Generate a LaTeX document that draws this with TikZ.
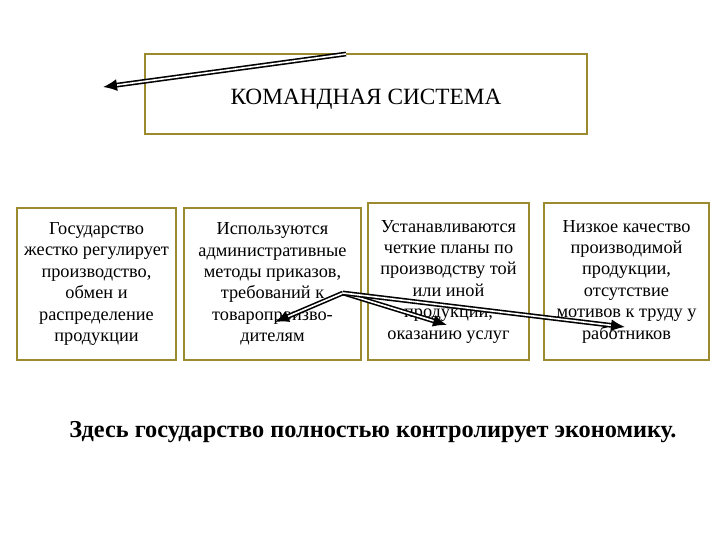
\documentclass[tikz,border=0pt]{standalone}
\usepackage{fontspec}
\setmainfont{Liberation Serif}
\usetikzlibrary{arrows.meta}
\definecolor{olive}{HTML}{9C8A2E}
\tikzstyle{head}=[draw=olive, line width=1.8pt, fill=white, minimum width=442pt, minimum height=80pt, text height=21pt, text depth=0pt, font=\fontsize{23.3}{27}\selectfont]
\tikzstyle{cell}=[draw=olive, line width=1.8pt, fill=white, align=center, inner sep=0pt, font=\fontsize{18.3}{21.4}\selectfont]
\tikzstyle{ptr}=[double=white, double distance=1.6pt, line width=1.6pt, -{Latex[length=14pt,width=12pt]}]

\begin{document}
\begin{tikzpicture}[x=1pt,y=-1pt]
				\useasboundingbox (0,0) rectangle (720,540);
				%The head box
				\draw (366,94) node[head] (sys) {КОМАНДНАЯ СИСТЕМА};
				
				%The four cells
				\draw (96.5,284) node[cell, minimum width=159pt, minimum height=152pt] (gos) {Государство\\жестко регулирует\\производство,\\обмен и\\распределение\\продукции};
				
				\draw (272.5,284) node[cell, minimum width=177pt, minimum height=152pt] (metod) {Используются\\административные\\методы приказов,\\требований к\\товаропроизво-\\дителям};
				
				\draw (448.5,281.5) node[cell, minimum width=161pt, minimum height=157pt] (plan) {Устанавливаются\\четкие планы по\\производству той\\или иной\\продукции,\\оказанию услуг};
				
				\draw (626.5,281.5) node[cell, minimum width=165pt, minimum height=157pt] (kach) {Низкое качество\\производимой\\продукции,\\отсутствие\\мотивов к труду у\\работников};
				
				%The summary
				\draw (373,432) node[font=\fontsize{24.3}{28}\selectfont\bfseries] (itog) {Здесь государство полностью контролирует экономику.};
				
				%The arrows
				\coordinate (a0) at (346,54);
				\coordinate (a1) at (103,87);
				\coordinate (b0) at (343,293);
				\coordinate (b1) at (275,322);
				\coordinate (b2) at (447,325);
				\coordinate (b3) at (625,327);
				\draw[ptr] (a0) -- (a1);
				\draw[ptr] (b0) -- (b1);
				\draw[ptr] (b0) -- (b2);
				\draw[ptr] (b0) -- (b3);
			\end{tikzpicture}
\end{document}
